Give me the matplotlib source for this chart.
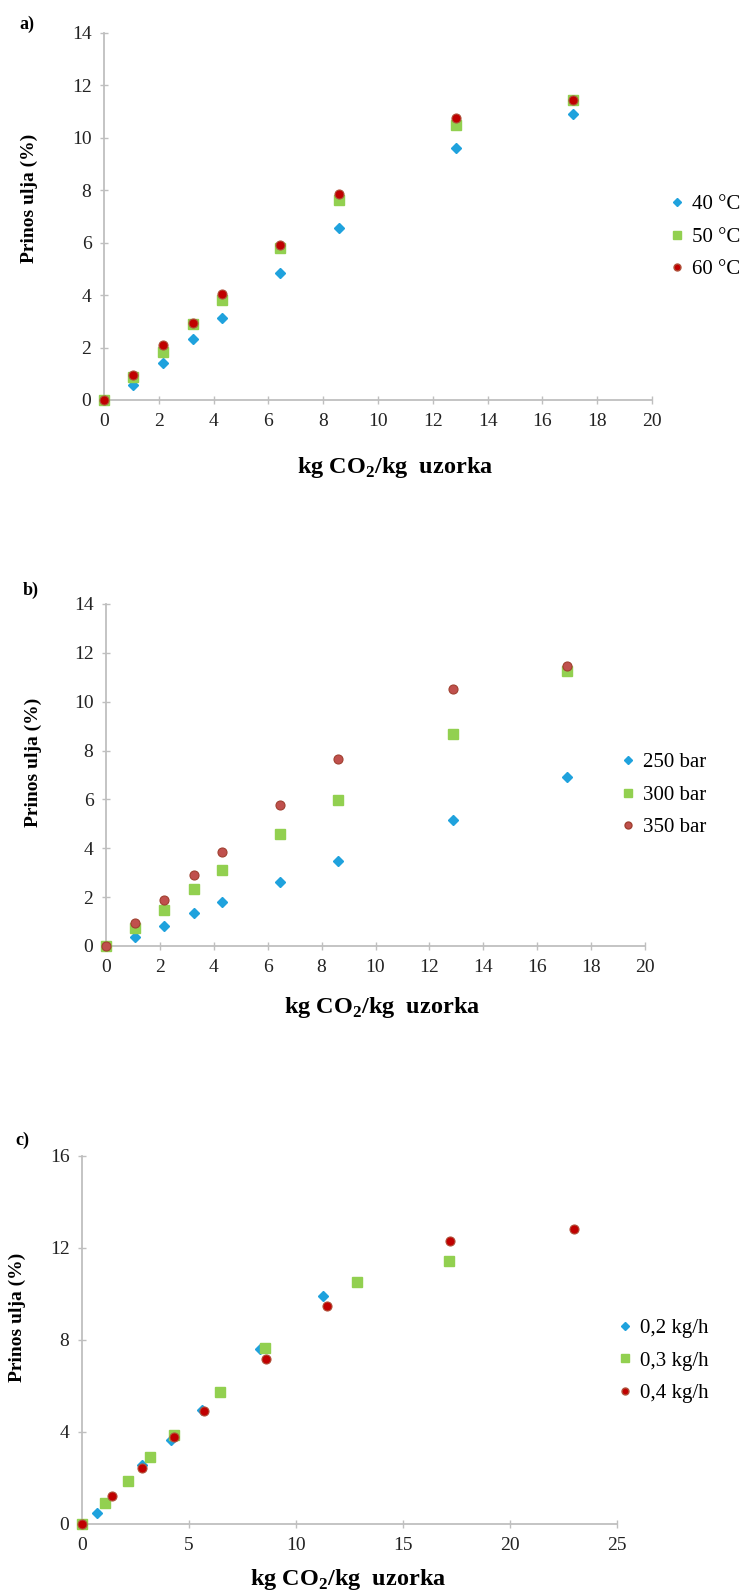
import matplotlib
matplotlib.use("Agg")
import matplotlib.pyplot as plt
from matplotlib.lines import Line2D

plt.rcParams['font.family'] = ['Liberation Serif', 'DejaVu Serif']
plt.rcParams['mathtext.fontset'] = 'custom'
plt.rcParams['mathtext.rm'] = 'Liberation Serif:bold'
plt.rcParams['mathtext.bf'] = 'Liberation Serif:bold'

# a) temperature
x_a = [0, 1.07, 2.14, 3.25, 4.30, 6.44, 8.58, 12.85, 17.11]
y_40 = [0, 0.56, 1.43, 2.31, 3.11, 4.85, 6.56, 9.60, 10.90]
y_50 = [0, 0.88, 1.83, 2.89, 3.81, 5.78, 7.63, 10.50, 11.45]
y_60 = [0, 0.97, 2.09, 2.92, 4.03, 5.91, 7.86, 10.75, 11.43]
labels_a = ['40 °C', '50 °C', '60 °C']

# b) pressure
x_b = [0, 1.08, 2.15, 3.25, 4.29, 6.44, 8.59, 12.86, 17.10]
y_250 = [0, 0.38, 0.83, 1.37, 1.82, 2.64, 3.48, 5.16, 6.90]
y_300 = [0, 0.72, 1.48, 2.32, 3.10, 4.58, 5.98, 8.67, 11.27]
y_350 = [0, 0.93, 1.89, 2.91, 3.84, 5.78, 7.66, 10.53, 11.48]
labels_b = ['250 bar', '300 bar', '350 bar']

# c) flow rate
x_02 = [0, 0.69, 2.80, 4.17, 5.60, 8.34, 11.27]
y_02 = [0, 0.48, 2.55, 3.66, 4.94, 7.60, 9.92]
x_03 = [0, 1.06, 2.17, 3.19, 4.30, 6.46, 8.56, 12.87, 17.13]
y_03 = [0, 0.91, 1.85, 2.90, 3.88, 5.76, 7.67, 10.51, 11.43]
x_04 = [0, 1.40, 2.80, 4.30, 5.72, 8.60, 11.45, 17.20, 22.98]
y_04 = [0, 1.20, 2.43, 3.78, 4.92, 7.17, 9.48, 12.31, 12.82]
labels_c = ['0,2 kg/h', '0,3 kg/h', '0,4 kg/h']

W, H = 745, 1591
BLUE = '#1fa2dd'
GREEN = '#92d050'
RED = '#c00000'
RED_EDGE = '#b0503a'
BROWN = '#c0504d'
GREY = '#bfbfbf'

fig = plt.figure(figsize=(W / 100, H / 100), dpi=100)


def px_axes(x0, x1, ytop, ybot):
    return fig.add_axes([x0 / W, 1 - ybot / H, (x1 - x0) / W, (ybot - ytop) / H])


def style(ax, xmax, ymax, xstep, ystep):
    ax.set_xlim(0, xmax)
    ax.set_ylim(0, ymax)
    ax.set_xticks(range(0, xmax + 1, xstep))
    ax.set_yticks(range(0, ymax + 1, ystep))
    for s in ['top', 'right']:
        ax.spines[s].set_visible(False)
    for s in ['left', 'bottom']:
        ax.spines[s].set_color(GREY)
        ax.spines[s].set_linewidth(1.3)
    ax.tick_params(axis='both', direction='inout', length=6, width=1, color=GREY,
                   labelsize=14, labelcolor='#222222')
    ax.tick_params(axis='x', pad=6)
    ax.tick_params(axis='y', pad=6)


def ftext(x, y, s, **kw):
    fig.text(x / W, 1 - y / H, s, **kw)


def legend(ax, handles, labels, mx, my):
    ax.legend(handles, labels, loc='center left',
              bbox_to_anchor=((mx - 8) / W, 1 - my / H), bbox_transform=fig.transFigure,
              frameon=False, fontsize=15, borderpad=0, handlelength=0.75,
              handletextpad=0.35, labelspacing=0.62, borderaxespad=0)


def series(ax, x, y, kind, face, edge):
    if kind == 'D':
        return ax.plot(x, y, 'D', ms=5, mfc=face, mec=face, ls='none', clip_on=False, zorder=3)[0]
    if kind == 's':
        return ax.plot(x, y, 's', ms=7, mfc=face, mec=face, ls='none', clip_on=False, zorder=3)[0]
    return ax.plot(x, y, 'o', ms=6.5, mfc=face, mec=edge, mew=0.8, ls='none', clip_on=False, zorder=4)[0]


def legend_handles(red, red_edge):
    return [Line2D([], [], marker='D', ms=4, color=BLUE, ls='none'),
            Line2D([], [], marker='s', ms=6, color=GREEN, ls='none'),
            Line2D([], [], marker='o', ms=5, mfc=red, mec=red_edge, ls='none')]


xlab = r'kg CO$_{2}$/kg  uzorka'

# panel a
ax_a = px_axes(104, 652, 33, 400)
style(ax_a, 20, 14, 2, 2)
series(ax_a, x_a, y_40, 'D', BLUE, BLUE)
series(ax_a, x_a, y_50, 's', GREEN, GREEN)
series(ax_a, x_a, y_60, 'o', RED, RED_EDGE)
legend(ax_a, legend_handles(RED, RED_EDGE), labels_a, 677, 237)
ftext(27, 24, 'a)', fontsize=13, fontweight='bold', ha='center', va='center')
ftext(29, 198, 'Prinos ulja (%)', fontsize=14, fontweight='bold', rotation=90, ha='center', va='center')
ftext(395, 468, xlab, fontsize=17.5, fontweight='bold', ha='center', va='center')

# panel b
ax_b = px_axes(106, 645, 604, 946)
style(ax_b, 20, 14, 2, 2)
series(ax_b, x_b, y_250, 'D', BLUE, BLUE)
series(ax_b, x_b, y_300, 's', GREEN, GREEN)
series(ax_b, x_b, y_350, 'o', BROWN, '#a04030')
legend(ax_b, legend_handles(BROWN, '#a04030'), labels_b, 628, 795)
ftext(31, 590, 'b)', fontsize=13, fontweight='bold', ha='center', va='center')
ftext(33, 762, 'Prinos ulja (%)', fontsize=14, fontweight='bold', rotation=90, ha='center', va='center')
ftext(382, 1008, xlab, fontsize=17.5, fontweight='bold', ha='center', va='center')

# panel c
ax_c = px_axes(82, 617, 1156, 1524)
style(ax_c, 25, 16, 5, 4)
series(ax_c, x_02, y_02, 'D', BLUE, BLUE)
series(ax_c, x_03, y_03, 's', GREEN, GREEN)
series(ax_c, x_04, y_04, 'o', RED, RED_EDGE)
legend(ax_c, legend_handles(RED, RED_EDGE), labels_c, 625, 1361)
ftext(22, 1140, 'c)', fontsize=13, fontweight='bold', ha='center', va='center')
ftext(17, 1317, 'Prinos ulja (%)', fontsize=14, fontweight='bold', rotation=90, ha='center', va='center')
ftext(348, 1579, xlab, fontsize=17.5, fontweight='bold', ha='center', va='center')

fig.savefig('out.png', dpi=100, facecolor='white')
